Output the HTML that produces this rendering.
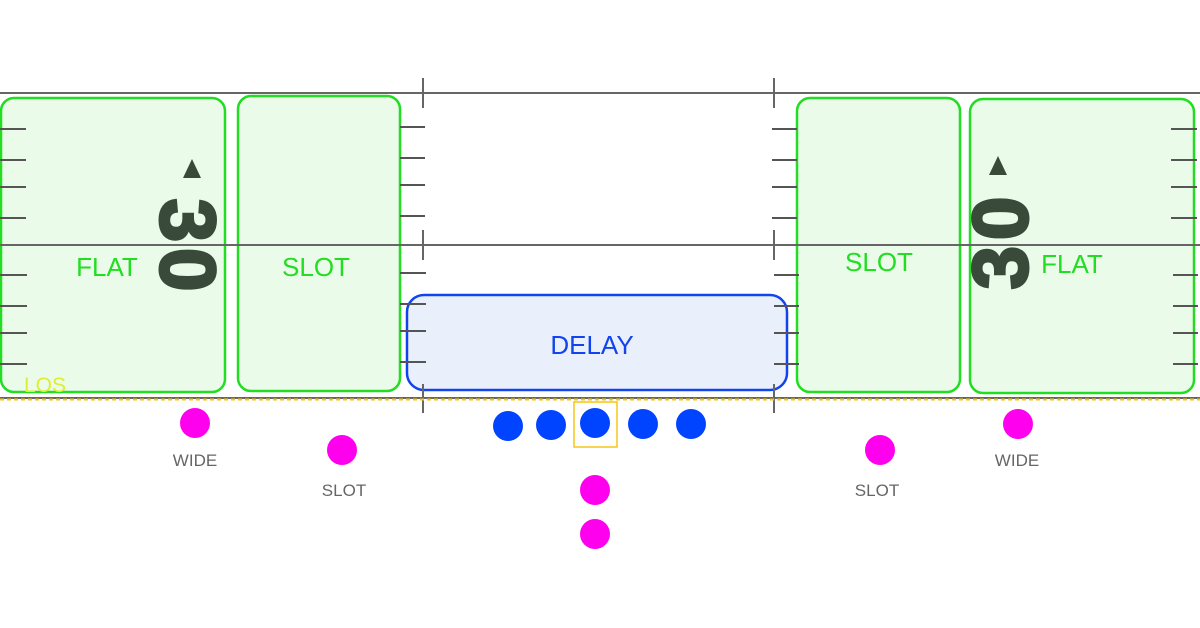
<!DOCTYPE html>
<html><head><style>body{margin:0;background:#fff}svg{display:block}</style></head><body>
<svg width="1200" height="628" viewBox="0 0 1200 628" font-family="Liberation Sans, sans-serif">
<rect width="1200" height="628" fill="#fff"/>
<rect x="1" y="98" width="224" height="294" rx="13" fill="#ebfbea" stroke="#22dd22" stroke-width="2.5"/>
<rect x="238" y="96" width="162" height="295" rx="13" fill="#ebfbea" stroke="#22dd22" stroke-width="2.5"/>
<rect x="797" y="98" width="163" height="294" rx="13" fill="#ebfbea" stroke="#22dd22" stroke-width="2.5"/>
<rect x="970" y="99" width="224" height="294" rx="13" fill="#ebfbea" stroke="#22dd22" stroke-width="2.5"/>
<rect x="407" y="295" width="380" height="95" rx="17" fill="#eaf0fb" stroke="#1144ee" stroke-width="2.5"/>
<g stroke="#666" stroke-width="2">
<line x1="0" y1="93" x2="1200" y2="93"/>
<line x1="0" y1="245" x2="1200" y2="245"/>
<line x1="0" y1="398" x2="1200" y2="398"/>
<line x1="423" y1="78" x2="423" y2="108"/><line x1="423" y1="230" x2="423" y2="260"/><line x1="423" y1="384" x2="423" y2="413"/>
<line x1="774" y1="78" x2="774" y2="108"/><line x1="774" y1="230" x2="774" y2="260"/><line x1="774" y1="384" x2="774" y2="413"/>
</g>
<line x1="0" y1="399.5" x2="1200" y2="399.5" stroke="#f5c518" stroke-width="2" stroke-dasharray="4,3"/>
<g stroke="#555" stroke-width="2">
<path d="M0 129H26M0 160H26M0 187H26M0 218H26M0 275H27M0 306H27M0 333H27M0 364H27"/>
<path d="M400 127H425M400 158H425M400 185H425M400 216H425M400 273H426M400 304H426M400 331H426M400 362H426"/>
<path d="M772 129H797M772 160H797M772 187H797M772 218H797M774 275H799M774 306H799M774 333H799M774 364H799"/>
<path d="M1171 129H1197M1171 160H1197M1171 187H1197M1171 218H1197M1173 275H1198M1173 306H1198M1173 333H1198M1173 364H1198"/>
</g>
<g fill="#3a4a3a" font-weight="bold" font-size="78" stroke="#3a4a3a" stroke-width="3">
<text transform="translate(188,248) rotate(90)" text-anchor="middle" dominant-baseline="central" letter-spacing="6">30</text>
<text transform="translate(1000,240) rotate(-90)" text-anchor="middle" dominant-baseline="central" letter-spacing="6">30</text>
</g>
<g fill="#3a4a3a">
<polygon points="192,159 183,178 201,178"/>
<polygon points="998,156 989,175 1007,175"/>
</g>
<g fill="#22dd22" font-size="26" text-anchor="middle">
<text x="107" y="276">FLAT</text>
<text x="316" y="276">SLOT</text>
<text x="879" y="271">SLOT</text>
<text x="1072" y="273">FLAT</text>
</g>
<text x="592" y="354" fill="#1144ee" font-size="26" text-anchor="middle">DELAY</text>
<text x="24" y="392" fill="#ddee33" font-size="21">LOS</text>
<rect x="574" y="402" width="43" height="45" fill="none" stroke="#f5c518" stroke-width="1.5"/>
<g fill="#0044ff">
<circle cx="508" cy="426" r="15"/><circle cx="551" cy="425" r="15"/><circle cx="595" cy="423" r="15"/><circle cx="643" cy="424" r="15"/><circle cx="691" cy="424" r="15"/>
</g>
<g fill="#ff00ee">
<circle cx="195" cy="423" r="15"/><circle cx="342" cy="450" r="15"/><circle cx="595" cy="490" r="15"/><circle cx="595" cy="534" r="15"/><circle cx="880" cy="450" r="15"/><circle cx="1018" cy="424" r="15"/>
</g>
<g fill="#666" font-size="17" text-anchor="middle">
<text x="195" y="466">WIDE</text><text x="344" y="496">SLOT</text><text x="877" y="496">SLOT</text><text x="1017" y="466">WIDE</text>
</g>
</svg>
</body></html>
